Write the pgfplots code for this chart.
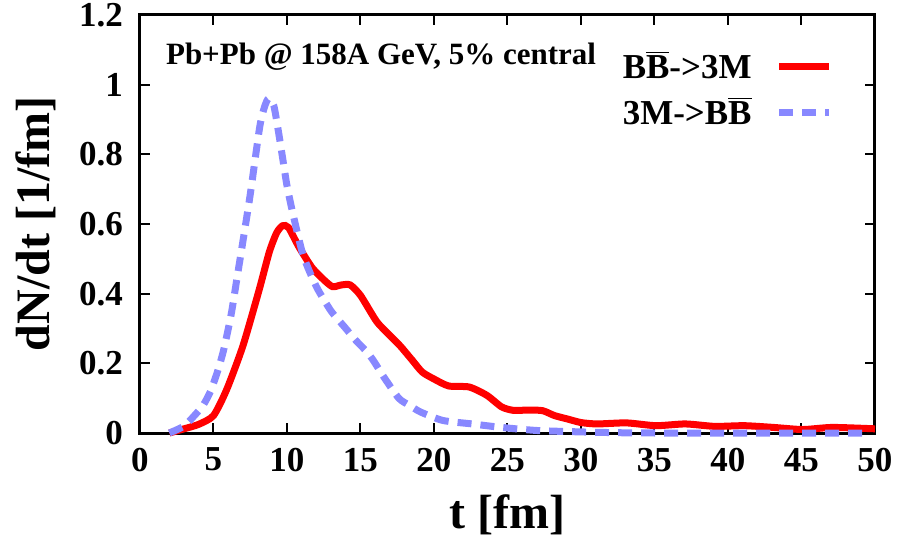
\documentclass[border=0pt]{standalone}
\usepackage{pgfplots}
\pgfplotsset{compat=1.18}
\usepackage{fontspec}
\setmainfont{Liberation Serif}

\definecolor{lblue}{RGB}{136,136,255}
\newcommand{\Bbar}{\ensuremath{\overline{\mbox{B}}}}

\begin{document}
\begin{tikzpicture}
\begin{axis}[
    scale only axis,
    width=367.5pt, height=209pt,
    xmin=0, xmax=50, ymin=0, ymax=1.2,
    xtick={0,5,10,15,20,25,30,35,40,45,50},
    ytick={0,0.2,0.4,0.6,0.8,1,1.2},
    tick align=inside,
    major tick length=5pt,
    axis line style={line width=1.5pt},
    every tick/.style={black, line width=1pt},
    /pgf/number format/assume math mode=true,
    tick label style={font=\fontsize{17.5}{20}\selectfont\bfseries},
    xticklabel style={yshift=-4pt},
    yticklabel style={xshift=-5pt},
    xlabel={t [fm]},
    ylabel={dN/dt [1/fm]},
    label style={font=\fontsize{24}{28}\selectfont\bfseries},
    xlabel style={at={(axis description cs:0.5,-0.196)}, anchor=center},
    ylabel style={at={(axis description cs:-0.142,0.5)}, anchor=center},
    clip=false,
    legend style={draw=none, fill=none, at={(axis description cs:1,1)},
        anchor=north east, xshift=-21pt, yshift=-16pt,
        font=\fontsize{17.5}{20}\selectfont\bfseries,
        inner sep=0pt, row sep=4pt, column sep=10pt},
    legend plot pos=right,
    legend cell align=left,
    legend image code/.code={\draw[#1] (0pt,0pt) -- (25pt,0pt);},
]

% B Bbar -> 3M
\addplot[red, line width=3.5pt, smooth, tension=0.4] coordinates {
    (2.0,0.0) (3.0,0.012) (4.0,0.025) (5.0,0.05) (5.9,0.125) (7.0,0.25)
    (8.1,0.41) (8.8,0.52) (9.3,0.575) (9.7,0.595) (10.1,0.59) (10.8,0.535)
    (11.7,0.475) (12.5,0.44) (13.1,0.42) (13.7,0.425) (14.3,0.425) (15.0,0.395)
    (16.1,0.32) (17.0,0.28) (17.7,0.25) (18.5,0.21) (19.2,0.175) (20.0,0.155)
    (21.0,0.135) (22.4,0.132) (23.6,0.108) (24.6,0.075) (25.4,0.065) (26.5,0.066)
    (27.4,0.064) (28.2,0.05) (29.1,0.04) (30.0,0.03) (31.1,0.026) (33.1,0.029)
    (35.1,0.021) (37.1,0.026) (39.1,0.019) (41.1,0.021) (43.1,0.016) (45.1,0.01)
    (47.1,0.016) (50.0,0.012)
};
\addlegendentry{B\Bbar->3M}

% 3M -> B Bbar
\addplot[lblue, line width=3.5pt, dash pattern=on 7pt off 4.5pt, smooth, tension=0.4] coordinates {
    (2.0,0.0) (3.0,0.02) (3.7,0.05) (4.3,0.08) (4.8,0.12) (5.3,0.18) (5.7,0.24)
    (6.2,0.34) (6.6,0.445) (7.0,0.55) (7.5,0.685) (8.15,0.88) (8.5,0.94)
    (8.75,0.96) (9.1,0.94) (9.4,0.87) (9.7,0.79) (10.0,0.71) (10.4,0.63)
    (11.1,0.51) (12.0,0.42) (13.0,0.35) (13.9,0.305) (14.7,0.265) (15.5,0.23)
    (16.0,0.2) (16.6,0.16) (17.6,0.1) (18.3,0.08) (19.1,0.06) (20.6,0.036)
    (22.6,0.026) (24.6,0.016) (27.1,0.007) (31.1,0.002) (35.0,0.0) (49.4,0.0)
};
\addlegendentry{3M->B\Bbar}

\node[anchor=west, xshift=9.5pt, yshift=-21pt,
      font=\fontsize{15.5}{18}\selectfont\bfseries]
    at (axis description cs:0,1) {Pb+Pb @ 158A GeV, 5\% central};

\coordinate (sw) at (axis description cs:0,0);
\coordinate (ne) at (axis description cs:1,1);
\end{axis}
\pgfresetboundingbox
\path[use as bounding box] ([shift={(-70pt,-56pt)}]sw) rectangle ([shift={(11.5pt,7.5pt)}]ne);
\end{tikzpicture}
\end{document}
